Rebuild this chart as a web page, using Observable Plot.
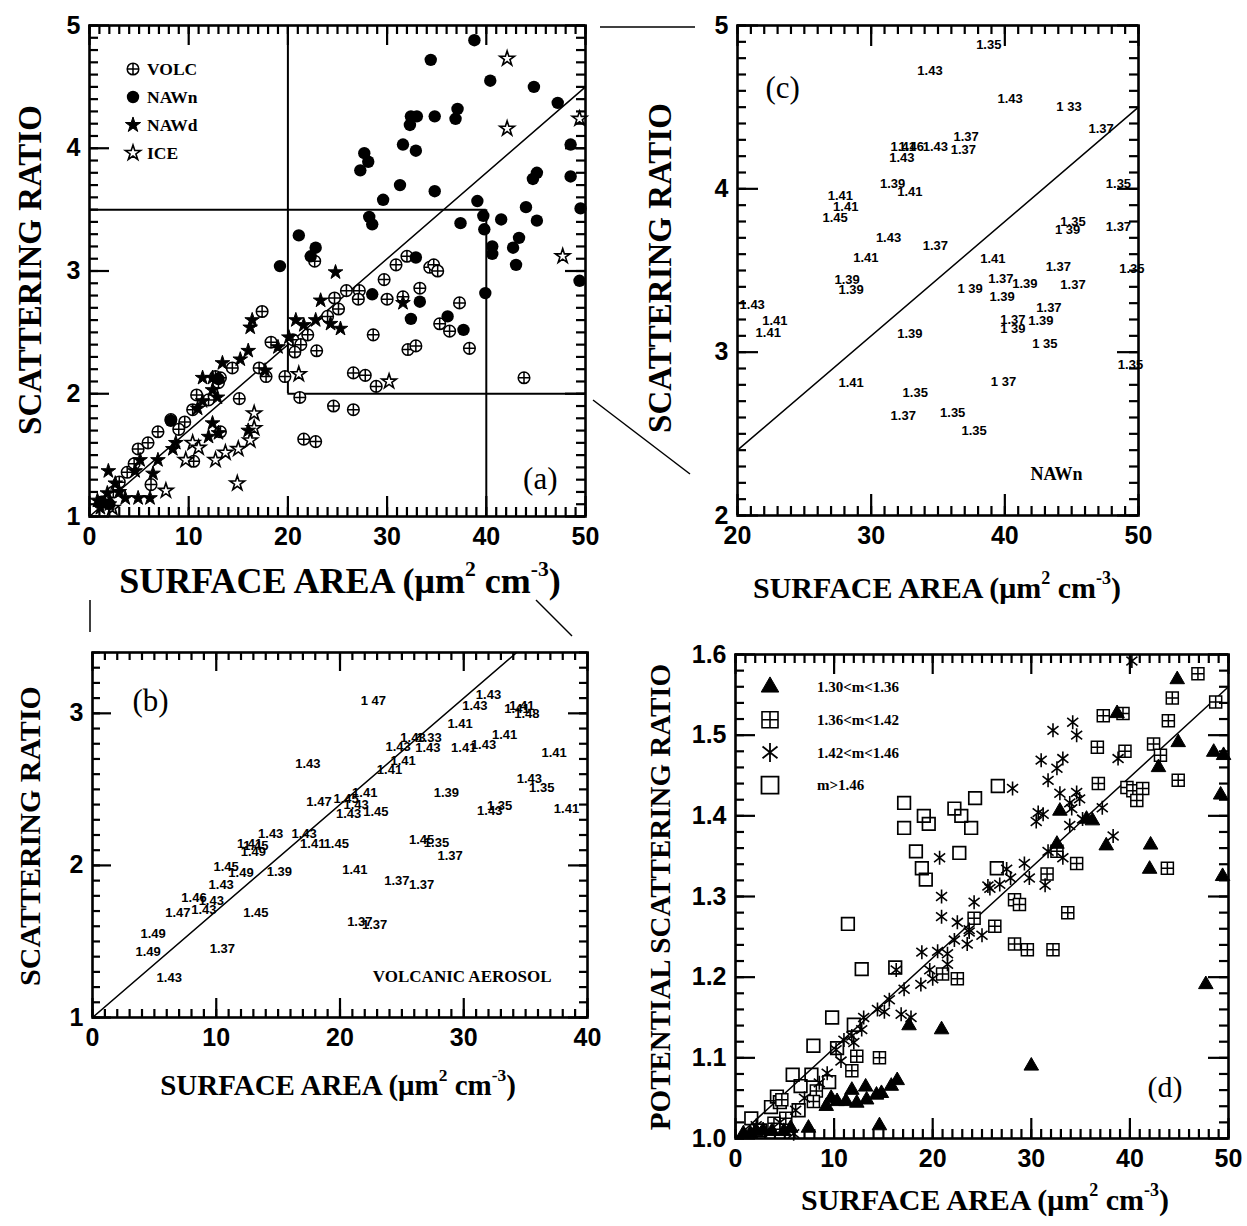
<!DOCTYPE html>
<html><head><meta charset="utf-8">
<script src="https://cdn.jsdelivr.net/npm/d3@7"></script>
<script src="https://cdn.jsdelivr.net/npm/@observablehq/plot@0.6"></script>
<style>
body{margin:0;background:#fff;}
#wrap{position:relative;width:1247px;height:1226px;background:#fff;overflow:hidden;}
.panel{position:absolute;}
.title{position:absolute;white-space:nowrap;font-family:"Liberation Serif","Times New Roman",serif;color:#000;line-height:1;font-weight:bold;}
.xt{transform:translate(-50%,-50%);}
.yt{transform:translate(-50%,-50%) rotate(-90deg);}
.title sup{font-size:0.6em;vertical-align:0.8em;line-height:0;}
#overlay{position:absolute;left:0;top:0;pointer-events:none;}
</style></head>
<body><div id="wrap"></div>
<script>
// ---------------- DATA ----------------
// Panel (b): volcanic aerosol [surface area, scattering ratio, refractive index label]
const volc = [
 [17.4,2.67,"1.43"],[18.3,2.42,"1.47"],[14.4,2.21,"1.43"],[17.1,2.21,"1.43"],[17.8,2.14,"1.41"],[19.7,2.14,"1.45"],
 [12.7,2.14,"1.41"],[13.2,2.13,"1.45"],[13.0,2.09,"1.49"],[10.8,1.99,"1.45"],[12.0,1.95,"1.49"],[15.1,1.96,"1.39"],
 [10.4,1.87,"1.43"],[8.2,1.79,"1.46"],[9.6,1.77,"1.43"],[9.0,1.71,"1.43"],[6.9,1.69,"1.47"],[13.2,1.69,"1.45"],
 [4.9,1.55,"1.49"],[4.5,1.43,"1.49"],[10.5,1.45,"1.37"],[6.2,1.26,"1.43"],
 [22.7,3.08,"1 47"],[32.0,3.12,"1.43"],[30.9,3.05,"1.43"],[34.3,3.03,"1.41"],[34.7,3.05,"1.41"],[35.1,3.00,"1.48"],
 [29.7,2.93,"1.41"],[33.3,2.86,"1.41"],[25.9,2.84,"1.43"],[27.2,2.84,"1.33"],[24.7,2.78,"1.43"],[27.1,2.77,"1.43"],
 [30.0,2.77,"1.41"],[31.6,2.79,"1.43"],[37.3,2.74,"1.41"],[25.1,2.69,"1.41"],[24.0,2.63,"1.41"],[28.6,2.48,"1.39"],
 [35.3,2.57,"1.43"],[36.3,2.51,"1.35"],[20.5,2.44,"1.45"],[22.0,2.48,"1.41"],[21.3,2.40,"1.43"],[20.7,2.34,"1.43"],
 [22.9,2.35,"1.45"],[32.1,2.36,"1.43"],[32.9,2.39,"1.35"],[38.3,2.37,"1.41"],[26.6,2.17,"1.45"],[27.8,2.15,"1.35"],
 [28.9,2.06,"1.37"],[21.2,1.97,"1.41"],[24.6,1.90,"1.37"],[26.6,1.87,"1.37"],[21.6,1.63,"1.37"],[22.8,1.61,"1.37"]
];
const volcExtra = [[43.8,2.13],[3.8,1.36],[2.4,1.20],[1.5,1.12],[3.0,1.28],[5.9,1.60]];

// Panel (c): NAWn [surface area, scattering ratio, label]
const nawn = [
 [38.8,4.88,"1.35"],[34.4,4.72,"1.43"],[40.4,4.55,"1.43"],[44.8,4.50,"1 33"],[47.2,4.37,"1.37"],
 [37.1,4.32,"1.37"],[36.9,4.24,"1.37"],[34.8,4.26,"1.43"],[32.4,4.26,"1.41"],[33.0,4.26,"1.46"],[32.3,4.19,"1.43"],
 [31.6,4.03,"1.39"],[32.9,3.98,"1.41"],[48.5,4.03,"1.35"],[27.7,3.96,"1.41"],[28.1,3.89,"1.41"],[27.3,3.82,"1.45"],
 [45.1,3.80,"1.35"],[44.7,3.75,"1 39"],[48.5,3.77,"1.37"],[31.3,3.70,"1.43"],[34.8,3.65,"1.37"],[29.6,3.58,"1.41"],
 [39.1,3.57,"1.41"],[44.0,3.52,"1.37"],[49.5,3.51,"1.35"],[28.2,3.44,"1.39"],[28.5,3.38,"1.39"],[21.1,3.29,"1.43"],
 [22.8,3.19,"1.41"],[22.3,3.12,"1.41"],[32.9,3.11,"1.39"],[37.4,3.39,"1 39"],[39.7,3.45,"1.37"],[41.5,3.42,"1.39"],
 [39.8,3.34,"1.39"],[45.1,3.41,"1.37"],[43.3,3.27,"1.37"],[40.6,3.20,"1.37"],[42.7,3.19,"1.39"],[40.6,3.14,"1 39"],
 [43.0,3.05,"1 35"],[49.4,2.92,"1.35"],[28.5,2.81,"1.41"],[39.9,2.82,"1 37"],[33.3,2.75,"1.35"],[32.4,2.61,"1.37"],
 [36.1,2.63,"1.35"],[37.7,2.52,"1.35"]
];
const nawnExtra = [[19.2,3.04],[8.2,1.78],[13.0,2.12],[1.2,1.12],[2.0,1.10]];

// Panel (a): NAWd and ICE [surface area, scattering ratio]
const nawd = [
 [24.8,2.99],[31.6,2.74],[23.3,2.76],[25.3,2.53],[24.3,2.57],[22.8,2.60],[21.6,2.56],[20.8,2.60],[16.4,2.60],[16.2,2.54],
 [20.1,2.46],[19.0,2.38],[16.0,2.35],[15.2,2.28],[13.4,2.25],[11.4,2.13],[12.4,2.13],[17.7,2.19],[12.4,2.03],[12.9,1.97],
 [11.4,1.94],[10.9,1.88],[12.4,1.76],[12.0,1.65],[13.0,1.68],[8.7,1.60],[8.4,1.55],[6.9,1.46],[5.1,1.46],[4.6,1.37],
 [6.4,1.35],[1.9,1.37],[2.6,1.27],[0.8,1.13],[1.8,1.19],[3.6,1.15],[4.9,1.15],[6.1,1.15],[1.1,1.07],[16.0,1.70],[3.0,1.20],[2.0,1.10]
];
const ice = [
 [42.1,4.73],[42.1,4.16],[49.4,4.24],[47.7,3.12],[30.2,2.10],[21.1,2.16],[16.6,1.84],[16.6,1.72],[16.2,1.62],[14.9,1.27],
 [7.7,1.21],[9.7,1.46],[10.4,1.60],[12.7,1.46],[13.7,1.52],[15.0,1.55],[11.0,1.56],[2.3,1.07]
];

// Panel (d): potential scattering ratio by refractive-index class
const triD = [
 [44.8,1.569],[38.7,1.527],[44.9,1.491],[42.9,1.460],[48.5,1.479],[49.5,1.475],[49.2,1.426],[36.2,1.394],[35.6,1.396],
 [32.9,1.406],[32.6,1.365],[37.6,1.363],[42.1,1.364],[42.0,1.334],[49.4,1.325],[47.7,1.191],[30.0,1.090],[17.6,1.140],
 [20.9,1.135],[16.4,1.072],[15.8,1.065],[14.8,1.056],[14.3,1.054],[13.2,1.064],[12.3,1.044],[13.3,1.048],[11.8,1.060],
 [11.2,1.046],[10.3,1.046],[9.7,1.050],[9.2,1.040],[7.4,1.013],[14.6,1.016],[2.1,1.009],[0.8,1.006],[3.7,1.009],
 [4.9,1.009],[5.6,1.013],[1.5,1.006],[2.8,1.010]
];
const gridD = [
 [46.9,1.576],[44.3,1.546],[43.9,1.518],[48.7,1.541],[39.3,1.527],[37.3,1.524],[36.7,1.485],[39.5,1.480],[42.4,1.489],
 [43.1,1.475],[44.9,1.444],[36.8,1.440],[39.7,1.435],[40.3,1.431],[41.3,1.434],[40.7,1.419],[34.6,1.341],[31.6,1.328],
 [43.8,1.335],[32.6,1.356],[33.7,1.280],[28.3,1.296],[28.8,1.290],[26.3,1.263],[24.2,1.273],[28.3,1.241],[29.6,1.234],
 [32.2,1.234],[22.5,1.198],[21.0,1.204],[12.3,1.102],[14.6,1.100],[11.8,1.084],[8.2,1.059],[7.9,1.046],[4.7,1.048],
 [5.1,1.025],[3.9,1.019]
];
const starD = [
 [40.2,1.592],[34.2,1.516],[34.6,1.500],[32.2,1.506],[31.0,1.469],[33.2,1.471],[32.6,1.459],[31.7,1.444],[28.1,1.434],
 [32.9,1.428],[34.6,1.429],[34.9,1.421],[33.9,1.416],[34.1,1.409],[30.7,1.404],[31.2,1.402],[30.5,1.393],[37.2,1.410],
 [38.8,1.471],[33.9,1.388],[35.2,1.396],[38.3,1.375],[31.7,1.356],[33.2,1.348],[29.3,1.341],[29.8,1.323],[27.5,1.334],
 [25.6,1.313],[31.4,1.314],[24.2,1.293],[23.7,1.259],[25.0,1.252],[25.8,1.310],[26.8,1.315],[20.7,1.348],[20.9,1.300],
 [20.9,1.275],[22.5,1.268],[23.7,1.256],[22.2,1.246],[18.9,1.231],[20.5,1.232],[21.5,1.229],[21.5,1.216],[19.7,1.209],
 [18.8,1.191],[20.0,1.198],[17.1,1.185],[15.6,1.172],[14.4,1.160],[15.1,1.157],[16.8,1.154],[17.8,1.150],[13.0,1.150],
 [12.8,1.135],[11.8,1.127],[11.0,1.122],[12.0,1.119],[10.7,1.096],[10.2,1.110],[9.3,1.081],[8.5,1.069],[6.1,1.035],
 [5.9,1.006],[2.1,1.016],[23.5,1.241],[16.3,1.209],[27.9,1.323],[7.0,1.050],[4.5,1.020]
];
const sqD = [
 [17.1,1.416],[19.1,1.400],[17.1,1.385],[19.6,1.390],[22.2,1.409],[22.9,1.400],[23.9,1.385],[18.3,1.356],[22.7,1.354],
 [18.9,1.335],[19.3,1.321],[24.3,1.422],[26.6,1.437],[26.5,1.335],[11.4,1.266],[12.8,1.210],[16.2,1.212],[9.8,1.150],
 [7.9,1.115],[5.8,1.079],[6.6,1.065],[7.7,1.079],[4.2,1.052],[3.6,1.039],[6.4,1.035],[1.6,1.025],[12.0,1.141],
 [10.3,1.112],[4.5,1.045],[2.5,1.010],[9.5,1.070]
];

// Reference lines (intercept, slope) and zoom box of panel (a)
const fitABC = {a: 1.0, b: 0.07};
const fitD = {a: 1.0, b: 0.0112};
const boxX = [20, 40];
const boxY = [2, 3.5];

const legendA = ["VOLC", "NAWn", "NAWd", "ICE"];
const legendD = ["1.30<m<1.36", "1.36<m<1.42", "1.42<m<1.46", "m>1.46"];

// ---------------- SYMBOLS ----------------
const rOf = s => Math.sqrt(s / Math.PI);
const circlePlus = {draw(c, s){const r=rOf(s); c.moveTo(r,0); c.arc(0,0,r,0,2*Math.PI); c.moveTo(-r,0); c.lineTo(r,0); c.moveTo(0,-r); c.lineTo(0,r);}};
const gridSquare = {draw(c, s){const r=rOf(s); c.rect(-r,-r,2*r,2*r); c.moveTo(-r,0); c.lineTo(r,0); c.moveTo(0,-r); c.lineTo(0,r);}};
const openSquare = {draw(c, s){const r=rOf(s); c.rect(-r,-r,2*r,2*r);}};
const asterisk = {draw(c, s){const r=rOf(s); for (const a of [90,38,142]) {const t=a*Math.PI/180, dx=r*Math.cos(t), dy=r*Math.sin(t); c.moveTo(-dx,-dy); c.lineTo(dx,dy);}}};

const SANS = "Liberation Sans, Arial, Helvetica, sans-serif";
const SERIF = "Liberation Serif, Times New Roman, serif";
const wrap = document.getElementById("wrap");

function lineFrom(fit, xd, yd) {
  const x0 = xd[0], x1 = Math.min(xd[1], (yd[1] - fit.a) / fit.b);
  return [{x: x0, y: fit.a + fit.b * x0}, {x: x1, y: fit.a + fit.b * x1}];
}

// inward tick marks as rule segments (lengths in px converted to data units)
function ticks(p) {
  const {xd, yd, m, width, height} = p;
  const kx = (xd[1] - xd[0]) / (width - m[1] - m[3]);
  const ky = (yd[1] - yd[0]) / (height - m[0] - m[2]);
  const o = {stroke: "black", strokeWidth: 2.2};
  const out = [];
  for (const [vals, len] of [[p.xMinor, p.minLen], [p.xMajor, p.majLen]]) {
    out.push(Plot.ruleX(vals, {...o, x: d => d, y1: () => yd[0], y2: () => yd[0] + len * ky}));
    out.push(Plot.ruleX(vals, {...o, x: d => d, y1: () => yd[1] - len * ky, y2: () => yd[1]}));
  }
  for (const [vals, len] of [[p.yMinor, p.minLen], [p.yMajor, p.majLen]]) {
    out.push(Plot.ruleY(vals, {...o, y: d => d, x1: () => xd[0], x2: () => xd[0] + len * kx}));
    out.push(Plot.ruleY(vals, {...o, y: d => d, x1: () => xd[1] - len * kx, x2: () => xd[1]}));
  }
  return out;
}

function panel(p) {
  const chart = Plot.plot({
    width: p.width, height: p.height,
    marginTop: p.m[0], marginRight: p.m[1], marginBottom: p.m[2], marginLeft: p.m[3],
    x: {domain: p.xd}, y: {domain: p.yd},
    style: {fontFamily: SANS, background: "transparent", overflow: "visible", color: "black"},
    marks: [
      ...p.marks,
      ...ticks(p),
      Plot.axisX({anchor: "bottom", ticks: p.xLab, tickSize: 0, tickPadding: 11, tickFormat: p.xFmt || (d => String(d)), fontSize: 25, fontWeight: "bold", label: null}),
      Plot.axisY({anchor: "left", ticks: p.yLab, tickSize: 0, tickPadding: 9, tickFormat: p.yFmt || (d => String(d)), fontSize: 25, fontWeight: "bold", label: null}),
      Plot.frame({stroke: "black", strokeWidth: 2.6})
    ]
  });
  const d = document.createElement("div");
  d.className = "panel";
  d.style.left = p.left + "px"; d.style.top = p.top + "px";
  d.appendChild(chart);
  wrap.appendChild(d);
}

function title(html, cx, cy, size, cls) {
  const d = document.createElement("div");
  d.className = "title " + cls;
  d.style.left = cx + "px"; d.style.top = cy + "px"; d.style.fontSize = size + "px";
  d.innerHTML = html;
  wrap.appendChild(d);
}

const pts = arr => arr.map(([x, y, m]) => ({x, y, m}));
const annot = (t, anchor, dx, dy, size, weight = "normal", family = SERIF) =>
  Plot.text([t], {frameAnchor: anchor, dx, dy, text: d => d, fontSize: size, fontFamily: family, fontWeight: weight,
    textAnchor: anchor.includes("right") ? "end" : "start", lineAnchor: anchor.includes("bottom") ? "bottom" : "top"});

// ---------------- PANEL (a) ----------------
{
  const xd = [0, 50], yd = [1, 5];
  panel({
    left: 0, top: 0, width: 610, height: 560, m: [25, 25, 44, 89], xd, yd,
    xMinor: d3.range(0, 51, 1), xMajor: d3.range(0, 51, 10),
    yMinor: d3.ticks(1, 5, 40), yMajor: d3.range(1, 6, 1),
    xLab: d3.range(0, 51, 10), yLab: d3.range(1, 6, 1), minLen: 9, majLen: 20,
    marks: [
      Plot.line(lineFrom(fitABC, xd, yd), {x: "x", y: "y", stroke: "black", strokeWidth: 1.5}),
      Plot.ruleX([boxX[0]], {y1: boxY[0], y2: yd[1], stroke: "black", strokeWidth: 2}),
      Plot.ruleX([boxX[1]], {y1: yd[0], y2: boxY[1], stroke: "black", strokeWidth: 2}),
      Plot.ruleY([boxY[1]], {x1: xd[0], x2: boxX[1], stroke: "black", strokeWidth: 2}),
      Plot.ruleY([boxY[0]], {x1: boxX[0], x2: xd[1], stroke: "black", strokeWidth: 2}),
      Plot.dot(pts(volc).concat(pts(volcExtra)), {x: "x", y: "y", symbol: circlePlus, r: 5.8, fill: "white", stroke: "black", strokeWidth: 1.5}),
      Plot.dot(pts(ice), {x: "x", y: "y", symbol: d3.symbolStar, r: 4.6, fill: "white", stroke: "black", strokeWidth: 1.6}),
      Plot.dot(pts(nawd), {x: "x", y: "y", symbol: d3.symbolStar, r: 4.6, fill: "black", stroke: "black", strokeWidth: 1}),
      Plot.dot(pts(nawn).concat(pts(nawnExtra)), {x: "x", y: "y", symbol: "circle", r: 6.2, fill: "black", stroke: "none"}),
      annot("(a)", "bottom-right", -28, -28, 31)
    ]
  });
}

// ---------------- PANEL (c) ----------------
{
  const xd = [20, 50], yd = [2, 5];
  panel({
    left: 690, top: 0, width: 475, height: 560, m: [25, 27, 45, 47], xd, yd,
    xMinor: d3.range(20, 51, 1), xMajor: d3.range(20, 51, 10),
    yMinor: d3.ticks(2, 5, 30), yMajor: d3.range(2, 6, 1),
    xLab: d3.range(20, 51, 10), yLab: d3.range(2, 6, 1), minLen: 9, majLen: 21,
    marks: [
      Plot.line(lineFrom(fitABC, [20, 50], yd), {x: "x", y: "y", stroke: "black", strokeWidth: 1.5}),
      Plot.text(pts(nawn), {x: "x", y: "y", text: "m", fontSize: 13, fontWeight: "bold", fontFamily: SANS}),
      annot("(c)", "top-left", 28, 50, 31),
      annot("NAWn", "bottom-right", -56, -36, 18, "bold")
    ]
  });
}

// ---------------- PANEL (b) ----------------
{
  const xd = [0, 40], yd = [1, 3.4];
  panel({
    left: 0, top: 610, width: 610, height: 450, m: [42, 23, 43, 92], xd, yd,
    xMinor: d3.range(0, 41, 1), xMajor: d3.range(0, 41, 10),
    yMinor: d3.ticks(1, 3.4, 24), yMajor: [1, 2, 3],
    xLab: d3.range(0, 41, 10), yLab: [1, 2, 3], minLen: 8, majLen: 19,
    marks: [
      Plot.line(lineFrom(fitABC, xd, yd), {x: "x", y: "y", stroke: "black", strokeWidth: 1.5}),
      Plot.text(pts(volc), {x: "x", y: "y", text: "m", fontSize: 13, fontWeight: "bold", fontFamily: SANS}),
      annot("(b)", "top-left", 40, 36, 31),
      annot("VOLCANIC AEROSOL", "bottom-right", -36, -36, 17, "bold")
    ]
  });
}

// ---------------- PANEL (d) ----------------
{
  const xd = [0, 50], yd = [1.0, 1.6];
  panel({
    left: 680, top: 610, width: 565, height: 580, m: [44, 17, 52, 55], xd, yd,
    xMinor: d3.range(0, 51, 1), xMajor: d3.range(0, 51, 10),
    yMinor: d3.ticks(1, 1.6, 30), yMajor: d3.ticks(1, 1.6, 6),
    xLab: d3.range(0, 51, 10), yLab: d3.ticks(1, 1.6, 6), yFmt: d3.format(".1f"), minLen: 9, majLen: 20,
    marks: [
      Plot.line(lineFrom(fitD, xd, yd), {x: "x", y: "y", stroke: "black", strokeWidth: 1.5}),
      Plot.dot(pts(sqD), {x: "x", y: "y", symbol: openSquare, r: 6.3, fill: "none", stroke: "black", strokeWidth: 1.7}),
      Plot.dot(pts(gridD), {x: "x", y: "y", symbol: gridSquare, r: 6, fill: "white", stroke: "black", strokeWidth: 1.5}),
      Plot.dot(pts(starD), {x: "x", y: "y", symbol: asterisk, r: 7, fill: "none", stroke: "black", strokeWidth: 1.6}),
      Plot.dot(pts(triD), {x: "x", y: "y", symbol: d3.symbolTriangle, r: 5.4, fill: "black", stroke: "black", strokeWidth: 1}),
      annot("(d)", "bottom-right", -46, -42, 30)
    ]
  });
}

// ---------------- TITLES ----------------
const xTitle = 'SURFACE AREA (\u03bcm<sup>2</sup> cm<sup>-3</sup>)';
title(xTitle, 340, 581, 36, "xt");
title(xTitle, 937, 588, 30, "xt");
title(xTitle, 338, 1085, 29, "xt");
title(xTitle, 985, 1200, 30, "xt");
title("SCATTERING RATIO", 30, 270, 33, "yt");
title("SCATTERING RATIO", 660, 268, 33, "yt");
title("SCATTERING RATIO", 30, 836, 30, "yt");
title("POTENTIAL SCATTERING RATIO", 660, 897, 29, "yt");

// ---------------- OVERLAY: legends and zoom connectors ----------------
{
  const svg = d3.select(wrap).append("svg").attr("id", "overlay").attr("width", 1247).attr("height", 1226);
  const conn = [[600,27,695,27],[593,400,690,474],[90,600,90,632],[536,600,572,636]];
  svg.selectAll("line").data(conn).join("line")
    .attr("x1", d => d[0]).attr("y1", d => d[1]).attr("x2", d => d[2]).attr("y2", d => d[3])
    .attr("stroke", "black").attr("stroke-width", 1.5);

  const symA = [
    {sym: circlePlus, r: 5.8, fill: "white", sw: 1.5},
    {sym: d3.symbolCircle, r: 6.2, fill: "black", sw: 0},
    {sym: d3.symbolStar, r: 4.8, fill: "black", sw: 1},
    {sym: d3.symbolStar, r: 4.8, fill: "white", sw: 1.6}
  ];
  const gA = svg.append("g");
  legendA.forEach((t, i) => {
    const y = 69 + i * 28;
    gA.append("path").attr("transform", `translate(133,${y})`)
      .attr("d", d3.symbol(symA[i].sym, Math.PI * symA[i].r ** 2)())
      .attr("fill", symA[i].fill).attr("stroke", "black").attr("stroke-width", symA[i].sw);
    gA.append("text").attr("x", 147).attr("y", y).attr("dy", "0.35em").text(t)
      .attr("font-family", SERIF).attr("font-weight", "bold").attr("font-size", 17.5);
  });

  const symD = [
    {sym: d3.symbolTriangle, r: 6.5, fill: "black", sw: 1},
    {sym: gridSquare, r: 8, fill: "white", sw: 1.6},
    {sym: asterisk, r: 9.5, fill: "none", sw: 1.8},
    {sym: openSquare, r: 8.5, fill: "none", sw: 1.8}
  ];
  const gD = svg.append("g");
  legendD.forEach((t, i) => {
    const y = 687 + i * 32.7;
    gD.append("path").attr("transform", `translate(770,${y})`)
      .attr("d", d3.symbol(symD[i].sym, Math.PI * symD[i].r ** 2)())
      .attr("fill", symD[i].fill).attr("stroke", "black").attr("stroke-width", symD[i].sw);
    gD.append("text").attr("x", 817).attr("y", y).attr("dy", "0.35em").text(t)
      .attr("font-family", SERIF).attr("font-weight", "bold").attr("font-size", 15);
  });
}
</script></body></html>
